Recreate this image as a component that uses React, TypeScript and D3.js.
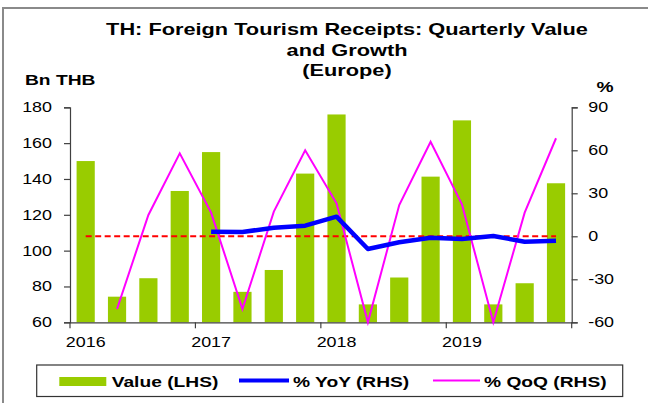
import React, { useEffect, useRef } from 'react';
import * as d3 from 'd3';

// quarters 2016Q1 .. 2019Q4
const quarters = [
  '2016Q1', '2016Q2', '2016Q3', '2016Q4',
  '2017Q1', '2017Q2', '2017Q3', '2017Q4',
  '2018Q1', '2018Q2', '2018Q3', '2018Q4',
  '2019Q1', '2019Q2', '2019Q3', '2019Q4',
];
const yearLabels = ['2016', '2017', '2018', '2019'];

// Bn THB (LHS)
const valueLHS = [150, 74.3, 84.6, 133.3, 155, 77, 89.2, 143, 176, 70, 85, 141.3, 172.7, 70, 81.8, 137.6];
// % QoQ (RHS), first quarter has no value
const qoq: (number | null)[] = [null, -50.7, 14.9, 57.9, 16.5, -50.7, 17.2, 60, 23, -60, 21.8, 66, 22.3, -60, 16.5, 68.4];
// % YoY (RHS), starts 2017Q1
const yoy: (number | null)[] = [null, null, null, null, 3.2, 3, 6, 7.4, 13.7, -8.9, -4.2, -1, -1.9, 0.2, -3.8, -3.1];

const leftTicks = [60, 80, 100, 120, 140, 160, 180];
const rightTicks = [-60, -30, 0, 30, 60, 90];

const W = 648;
const H = 403;
const SX = 1.28; // the original picture is stretched horizontally
const FONT = 'Arial, "Liberation Sans", sans-serif';

const App: React.FC = () => {
  const ref = useRef<SVGSVGElement | null>(null);

  useEffect(() => {
    if (!ref.current) return;
    const svg = d3.select(ref.current);
    svg.selectAll('*').remove();

    const plot = { left: 70, right: 571.7, top: 107.3, bottom: 322.3 };

    const x = d3
      .scaleBand<string>()
      .domain(quarters)
      .range([plot.left, plot.right])
      .paddingInner(0.42)
      .paddingOuter(0.21);
    const cx = (q: string) => (x(q) ?? 0) + x.bandwidth() / 2;

    const yL = d3.scaleLinear().domain([60, 180]).range([plot.bottom, plot.top]);
    const yR = d3.scaleLinear().domain([-60, 90]).range([plot.bottom, plot.top]);

    // outer frame (left and top only visible)
    svg.append('path')
      .attr('d', `M3,${H} L3,8 L${W},8`)
      .attr('fill', 'none')
      .attr('stroke', '#8a8a8a')
      .attr('stroke-width', 2);

    // stretched text helper
    const label = (
      t: string, px: number, py: number, size: number,
      anchor: string, weight = 'normal',
    ) => {
      svg.append('text')
        .attr('transform', `translate(${px},${py}) scale(${SX},1)`)
        .attr('text-anchor', anchor)
        .attr('font-family', FONT)
        .attr('font-size', size)
        .attr('font-weight', weight)
        .attr('fill', '#000')
        .text(t);
    };

    // title
    label('TH: Foreign Tourism Receipts: Quarterly Value', 347, 35, 17, 'middle', 'bold');
    label('and Growth', 347, 56, 17, 'middle', 'bold');
    label('(Europe)', 347, 76, 17, 'middle', 'bold');
    label('Bn THB', 25, 85, 15, 'start', 'bold');
    label('%', 605, 92, 15, 'middle', 'bold');

    // bars
    svg.append('g')
      .selectAll('rect')
      .data(quarters)
      .enter()
      .append('rect')
      .attr('x', d => x(d) ?? 0)
      .attr('width', x.bandwidth())
      .attr('y', (d, i) => yL(valueLHS[i]))
      .attr('height', (d, i) => yL(60) - yL(valueLHS[i]))
      .attr('fill', '#99cc00');

    // axes
    const axisColor = '#404040';
    const styleAxis = (g: d3.Selection<SVGGElement, unknown, null, undefined>) => {
      g.selectAll('path').attr('stroke', axisColor).attr('stroke-width', 1.2);
      g.selectAll('line').attr('stroke', axisColor).attr('stroke-width', 1.2);
    };
    const plain = (d: d3.NumberValue) => String(d);

    const gl = svg.append('g')
      .attr('transform', `translate(${plot.left},0)`)
      .call(d3.axisLeft(yL).tickValues(leftTicks).tickFormat(plain).tickSize(6).tickSizeOuter(6));
    styleAxis(gl);
    gl.selectAll('text')
      .attr('x', -18 / SX)
      .attr('transform', `scale(${SX},1)`)
      .attr('font-family', FONT)
      .attr('font-size', 14)
      .attr('fill', '#000');

    const gr = svg.append('g')
      .attr('transform', `translate(${plot.right},0)`)
      .call(d3.axisRight(yR).tickValues(rightTicks).tickFormat(plain).tickSize(6).tickSizeOuter(6));
    styleAxis(gr);
    gr.selectAll('text')
      .attr('x', 16.5 / SX)
      .attr('transform', `scale(${SX},1)`)
      .attr('font-family', FONT)
      .attr('font-size', 14)
      .attr('fill', '#000');

    // x axis: line + ticks at year boundaries, year labels under Q1
    const gx = svg.append('g')
      .attr('transform', `translate(0,${plot.bottom})`)
      .call(
        d3.axisBottom(x)
          .tickValues(quarters.filter((q, i) => i % 4 === 0))
          .tickSize(0)
          .tickSizeOuter(0)
          .tickFormat((q: string) => yearLabels[quarters.indexOf(q) / 4]),
      );
    styleAxis(gx);
    gx.selectAll('.tick text')
      .attr('y', 0)
      .attr('dy', 0)
      .attr('transform', `translate(0,24.5) scale(${SX},1)`)
      .attr('font-family', FONT)
      .attr('font-size', 14)
      .attr('fill', '#000');
    const half = (x.step() * x.paddingInner()) / 2;
    const boundaries = quarters
      .filter((q, i) => i % 4 === 0)
      .map(q => (x(q) ?? 0) - half)
      .concat([plot.right]);
    gx.selectAll('line.yb')
      .data(boundaries)
      .enter()
      .append('line')
      .attr('class', 'yb')
      .attr('x1', d => d)
      .attr('x2', d => d)
      .attr('y1', 0)
      .attr('y2', 6)
      .attr('stroke', axisColor)
      .attr('stroke-width', 1.2);

    // zero reference line
    svg.append('line')
      .attr('x1', cx(quarters[0]))
      .attr('x2', cx(quarters[quarters.length - 1]))
      .attr('y1', yR(0))
      .attr('y2', yR(0))
      .attr('stroke', '#ff0000')
      .attr('stroke-width', 2)
      .attr('stroke-dasharray', '6,3.5');

    const lineR = d3
      .line<number | null>()
      .defined(d => d !== null)
      .x((d, i) => cx(quarters[i]))
      .y(d => yR(d as number));

    svg.append('path')
      .datum(qoq)
      .attr('fill', 'none')
      .attr('stroke', '#ff00ff')
      .attr('stroke-width', 2)
      .attr('d', lineR);

    svg.append('path')
      .datum(yoy)
      .attr('fill', 'none')
      .attr('stroke', '#0000ff')
      .attr('stroke-width', 4.5)
      .attr('stroke-linejoin', 'round')
      .attr('d', lineR);

    // legend
    const lg = svg.append('g');
    lg.append('rect')
      .attr('x', 36.7)
      .attr('y', 365)
      .attr('width', 586)
      .attr('height', 31.5)
      .attr('fill', '#fff')
      .attr('stroke', '#333')
      .attr('stroke-width', 1.2);
    lg.append('rect')
      .attr('x', 59.3)
      .attr('y', 377)
      .attr('width', 47)
      .attr('height', 9)
      .attr('fill', '#99cc00');
    lg.append('line')
      .attr('x1', 239).attr('x2', 289)
      .attr('y1', 380.5).attr('y2', 380.5)
      .attr('stroke', '#0000ff')
      .attr('stroke-width', 4);
    lg.append('line')
      .attr('x1', 433).attr('x2', 480)
      .attr('y1', 380.5).attr('y2', 380.5)
      .attr('stroke', '#ff00ff')
      .attr('stroke-width', 2);
    label('Value (LHS)', 111.7, 387, 15, 'start', 'bold');
    label('% YoY (RHS)', 293, 387, 15, 'start', 'bold');
    label('% QoQ (RHS)', 484, 387, 15, 'start', 'bold');
  }, []);

  return (
    <svg
      ref={ref}
      width={W}
      height={H}
      style={{ position: 'absolute', left: 0, top: 0, background: '#fff' }}
    />
  );
};

export default App;
